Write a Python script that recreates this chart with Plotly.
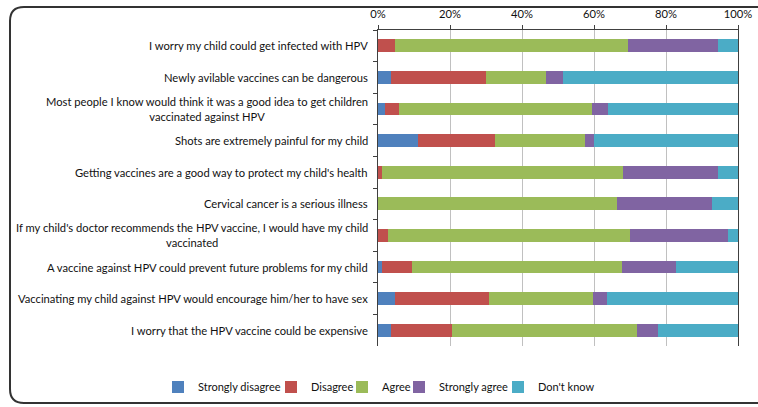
import plotly.graph_objects as go

categories = [
    "I worry my child could get infected with HPV",
    "Newly avilable vaccines can be dangerous",
    "Most people I know would think it was a good idea to get children<br>vaccinated against HPV",
    "Shots are extremely painful for my child",
    "Getting vaccines are a good way to protect my child's health",
    "Cervical cancer is a serious illness",
    "If my child's doctor recommends the HPV vaccine, I would have my child<br>vaccinated",
    "A vaccine against HPV could prevent future problems for my child",
    "Vaccinating my child against HPV would encourage him/her to have sex",
    "I worry that the HPV vaccine could be expensive",
]
strongly_disagree = [0.0, 3.6, 1.9, 11.1, 0.0, 0.0, 0.0, 1.0, 4.7, 3.6]
disagree = [4.7, 26.3, 3.9, 21.3, 1.0, 0.0, 2.8, 8.5, 26.2, 16.9]
agree = [64.7, 16.8, 53.6, 25.0, 67.0, 66.4, 67.3, 58.2, 28.9, 51.5]
strongly_agree = [25.1, 4.6, 4.6, 2.7, 26.4, 26.3, 27.2, 15.1, 3.7, 5.7]
dont_know = [5.4, 48.6, 36.0, 39.8, 5.6, 7.3, 2.7, 17.2, 36.5, 22.4]
x_ticks = [0, 20, 40, 60, 80, 100]
x_tick_labels = ["0%", "20%", "40%", "60%", "80%", "100%"]

series_names = ["Strongly disagree", "Disagree", "Agree", "Strongly agree", "Don't know"]
series_values = [strongly_disagree, disagree, agree, strongly_agree, dont_know]
series_colors = ["#4F81BD", "#C0504D", "#9BBB59", "#8064A2", "#4BACC6"]

W, H = 758, 407
ML, MR, MT, MB = 378, 20, 30, 61
PW, PH = W - ML - MR, H - MT - MB
FONT = "Lato"

def px2paper(px, py):
    return (px - ML) / PW, (H - MB - py) / PH

# legend text start positions (pixels)
legend_text_px = [198, 311, 382, 439, 538]
legend_y = px2paper(0, 387)[1]

fig = go.Figure()
legend_layouts = {}
for i, (name, vals, color) in enumerate(zip(series_names, series_values, series_colors)):
    key = "legend" if i == 0 else f"legend{i + 1}"
    fig.add_trace(go.Bar(
        y=categories, x=vals, name=name, orientation="h", legend=key,
        marker=dict(color=color, line=dict(width=0)),
    ))
    legend_layouts[key] = dict(
        orientation="h", x=px2paper(legend_text_px[i] - 40, 0)[0],
        xanchor="left", y=legend_y, yanchor="middle", bgcolor="rgba(0,0,0,0)",
        font=dict(family=FONT, size=11, color="#111111"), itemwidth=30,
    )

# rounded border frame (decoration)
L, T, R, B, r = 10, 7, 775, 403, 14
def P(x, y):
    a, b = px2paper(x, y)
    return f"{a:.5f},{b:.5f}"
path = (f"M {P(L, T + r)} Q {P(L, T)} {P(L + r, T)} L {P(R - r, T)} "
        f"Q {P(R, T)} {P(R, T + r)} L {P(R, B - r)} Q {P(R, B)} {P(R - r, B)} "
        f"L {P(L + r, B)} Q {P(L, B)} {P(L, B - r)} Z")

annotations = []
for c in categories:
    annotations.append(dict(
        text=c, xref="paper", yref="y", x=0, y=c, xanchor="right",
        xshift=-8, showarrow=False, align="center",
        font=dict(family=FONT, size=11.2, color="#111111"),
    ))

fig.update_layout(
    width=W, height=H,
    margin=dict(l=ML, r=MR, t=MT, b=MB, autoexpand=False),
    showlegend=True,
    barmode="stack", bargap=0.6,
    plot_bgcolor="white", paper_bgcolor="white",
    font=dict(family=FONT, size=11.2, color="#111111"),
    xaxis=dict(
        side="top", range=[0, 100], tickvals=x_ticks, ticktext=x_tick_labels,
        showgrid=True, gridcolor="#c0c0c0", gridwidth=1,
        showline=True, linecolor="#404040", linewidth=1,
        ticks="outside", ticklen=4, tickcolor="#404040", ticklabelstandoff=3,
        zeroline=False, fixedrange=True,
    ),
    yaxis=dict(
        categoryorder="array", categoryarray=categories, autorange="reversed",
        showticklabels=False, showline=True, linecolor="#404040", linewidth=1,
        mirror=True, ticks="outside", tickson="boundaries", ticklen=4,
        tickcolor="#404040", showgrid=False,
    ),
    annotations=annotations,
    shapes=[dict(type="path", path=path, xref="paper", yref="paper",
                 line=dict(color="#333333", width=2), layer="above")],
    **legend_layouts,
)

fig.write_html("out.html")
